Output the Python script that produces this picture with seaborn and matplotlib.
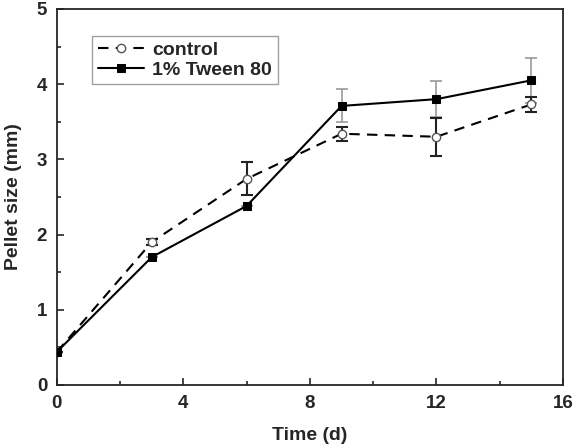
import numpy as np
import pandas as pd
import matplotlib
matplotlib.use('Agg')
import matplotlib.pyplot as plt
import seaborn as sns
from matplotlib.ticker import MultipleLocator

# values
days = [0, 3, 6, 9, 12, 15]
control = [0.44, 1.90, 2.74, 3.34, 3.30, 3.73]
control_err = [0.0, 0.04, 0.22, 0.09, 0.25, 0.10]
tween = [0.44, 1.70, 2.38, 3.71, 3.80, 4.05]
tween_err = [0.0, 0.0, 0.0, 0.22, 0.24, 0.30]

sns.set_style('ticks')
plt.rcParams['font.family'] = ['Liberation Sans', 'DejaVu Sans']
plt.rcParams['font.weight'] = 'bold'

df = pd.DataFrame({
    'Time': days * 2,
    'Size': control + tween,
    'group': ['control'] * len(days) + ['1% Tween 80'] * len(days),
})

fig = plt.figure(figsize=(5.75, 4.46), dpi=100)
ax = fig.add_axes([0.099, 0.137, 0.88, 0.843])

# error bars first so markers sit on top
ax.errorbar(days, tween, yerr=tween_err, fmt='none', ecolor='#999999',
            elinewidth=1.2, capsize=4, capthick=1.2, zorder=1)
ax.errorbar(days, control, yerr=control_err, fmt='none', ecolor='#222222',
            elinewidth=1.5, capsize=4, capthick=1.5, zorder=1)

sns.lineplot(data=df[df.group == 'control'], x='Time', y='Size', ax=ax,
             color='black', lw=1.5, marker='o', markersize=6,
             markerfacecolor='white', markeredgecolor='#555555',
             markeredgewidth=1.0, dashes=False, linestyle=(0, (5, 3.5)),
             label='control', zorder=3)
sns.lineplot(data=df[df.group == '1% Tween 80'], x='Time', y='Size', ax=ax,
             color='black', lw=1.5, marker='s', markersize=5.5,
             markerfacecolor='black', markeredgecolor='black',
             label='1% Tween 80', zorder=4)

ax.set_xlim(0, 16)
ax.set_ylim(0, 5)
ax.xaxis.set_major_locator(MultipleLocator(4))
ax.xaxis.set_minor_locator(MultipleLocator(2))
ax.yaxis.set_major_locator(MultipleLocator(1))
ax.yaxis.set_minor_locator(MultipleLocator(0.5))
ax.tick_params(which='both', direction='in', top=False, right=False,
               labelsize=13.5, width=1.2, pad=7)
ax.tick_params(which='major', length=5)
ax.tick_params(which='minor', length=3)
for lbl in ax.get_xticklabels() + ax.get_yticklabels():
    lbl.set_fontweight('bold')
for s in ax.spines.values():
    s.set_linewidth(1.3)
    s.set_visible(True)

ax.set_xlabel('Time (d)', fontsize=14, fontweight='bold', labelpad=11)
ax.set_ylabel('Pellet size (mm)', fontsize=14, fontweight='bold', labelpad=11)

leg = ax.legend(loc='upper left', bbox_to_anchor=(0.05, 0.955), fontsize=14,
                frameon=True, fancybox=False, edgecolor='#888888',
                handlelength=2.4, handletextpad=0.4, borderpad=0.3,
                labelspacing=0.1)
leg.get_frame().set_linewidth(1.0)
for t in leg.get_texts():
    t.set_fontweight('bold')

fig.savefig('out.png', dpi=100)
